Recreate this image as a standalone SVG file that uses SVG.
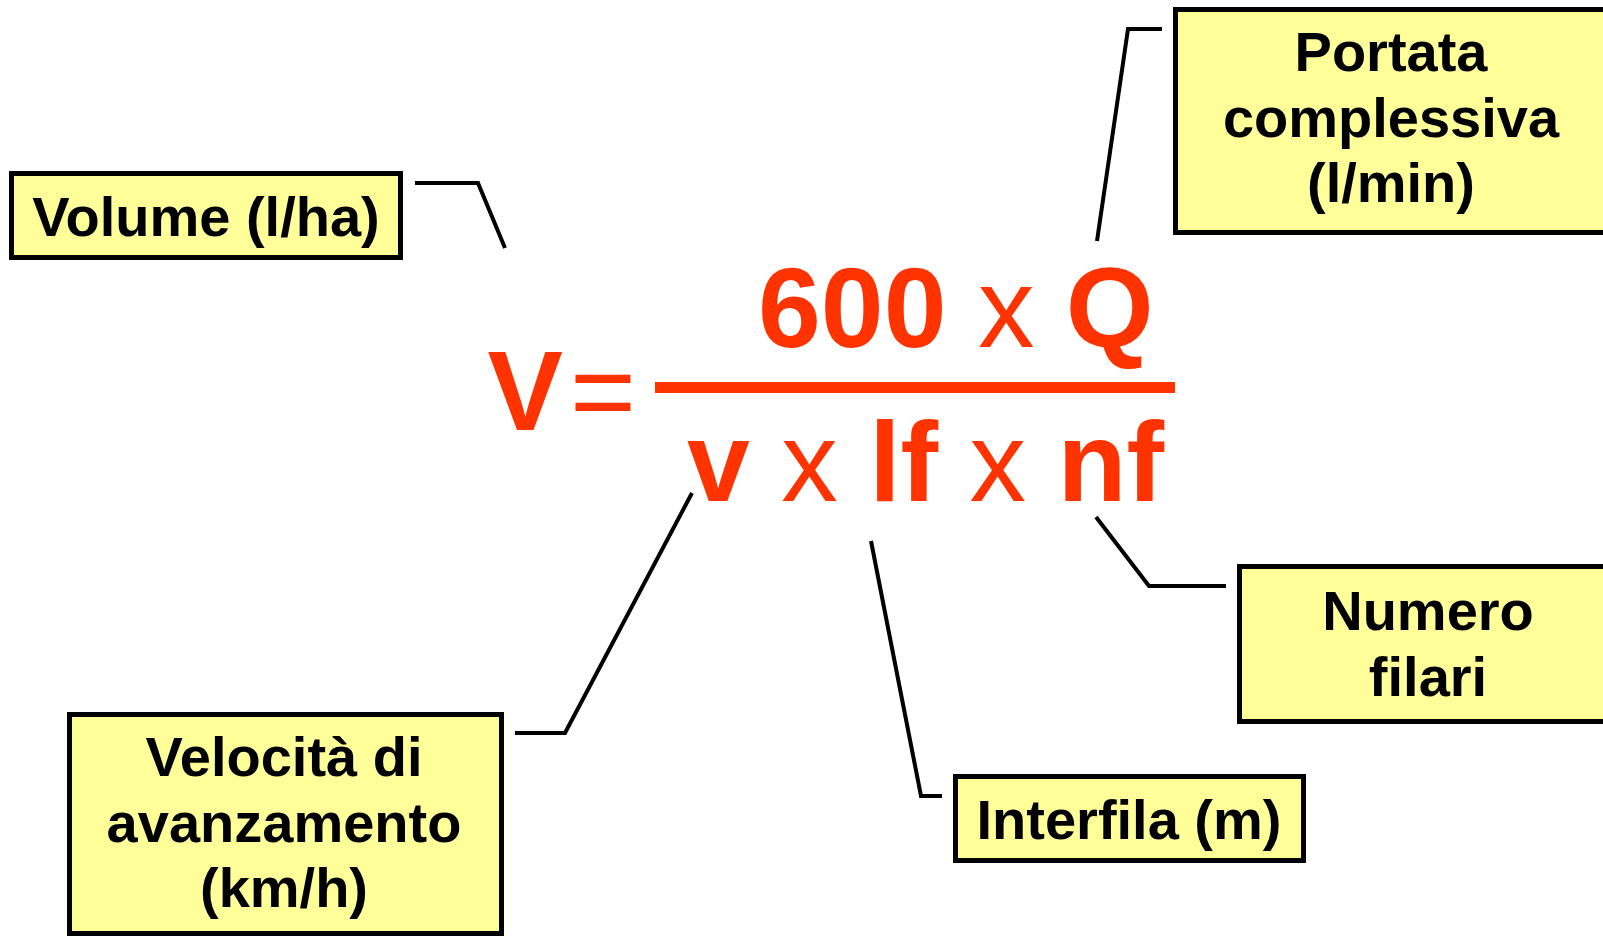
<svg xmlns="http://www.w3.org/2000/svg" width="1603" height="936" viewBox="0 0 1603 936">
<style>
.box{fill:#FFFF99;stroke:#000;stroke-width:5}
.lbl{font-family:"Liberation Sans",Arial,sans-serif;font-weight:bold;font-size:56px;fill:#000;text-anchor:middle}
.f{font-family:"Liberation Sans",Arial,sans-serif;font-weight:bold;font-size:113px;fill:#FF3300}
.r{font-weight:normal}
.con{fill:none;stroke:#000;stroke-width:4}
</style>
<rect width="1603" height="936" fill="#fff"/>
<g id="formula">
<text class="f" x="487.5" y="430">V</text>
<text class="f r" x="570" y="430">=</text>
<rect x="655" y="382" width="520" height="11" fill="#FF3300"/>
<text class="f" x="758" y="347" xml:space="preserve">600 <tspan class="r">x</tspan> Q</text>
<text class="f" x="687" y="501" xml:space="preserve">v <tspan class="r">x</tspan> lf <tspan class="r">x</tspan> nf</text>
</g>
<g id="connectors">
<polyline class="con" points="415,183 478,183 505,248"/>
<polyline class="con" points="1162,29 1128,29 1097,241"/>
<polyline class="con" points="515,733 565,733 692,493"/>
<polyline class="con" points="871,541 921,796 942,796"/>
<polyline class="con" points="1096,517 1149,586 1226,586"/>
</g>
<g id="volume">
<rect class="box" x="11.5" y="173.5" width="389" height="84"/>
<text class="lbl" x="206" y="236">Volume (l/ha)</text>
</g>
<g id="portata">
<rect class="box" x="1175.5" y="9.5" width="440" height="223"/>
<text class="lbl" x="1391" y="71">Portata</text>
<text class="lbl" x="1391" y="137">complessiva</text>
<text class="lbl" x="1391" y="202">(l/min)</text>
</g>
<g id="velocita">
<rect class="box" x="69.5" y="714.5" width="432" height="219"/>
<text class="lbl" x="284" y="776">Velocità di</text>
<text class="lbl" x="284" y="842">avanzamento</text>
<text class="lbl" x="284" y="907">(km/h)</text>
</g>
<g id="interfila">
<rect class="box" x="955.5" y="776.5" width="348" height="84"/>
<text class="lbl" x="1129" y="839">Interfila (m)</text>
</g>
<g id="numero">
<rect class="box" x="1239.5" y="566.5" width="400" height="155"/>
<text class="lbl" x="1428" y="630">Numero</text>
<text class="lbl" x="1428" y="696">filari</text>
</g>
</svg>
